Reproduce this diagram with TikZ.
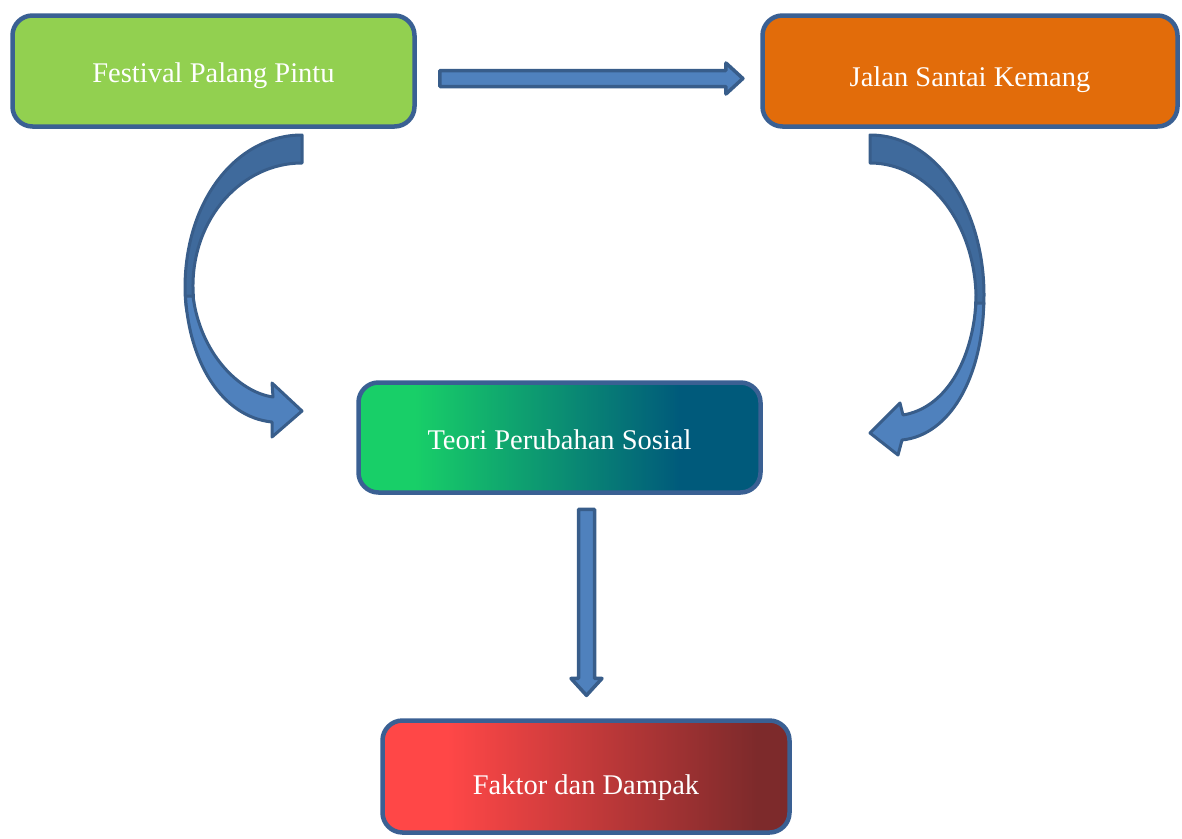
\documentclass[tikz,border=0pt]{standalone}
\usepackage{fontspec}
\setmainfont{Liberation Serif}
\usetikzlibrary{shapes.arrows}
\definecolor{boxline}{HTML}{3A6093}
\definecolor{festgreen}{HTML}{92D050}
\definecolor{jalanorange}{HTML}{E26C0A}
\definecolor{teoriA}{HTML}{18CF68}
\definecolor{teoriB}{HTML}{005A7B}
\definecolor{faktorA}{HTML}{FF4747}
\definecolor{faktorB}{HTML}{7D2A2B}
\definecolor{arrowfill}{HTML}{4F81BD}
\definecolor{arrowdark}{HTML}{3F6A9C}
\definecolor{arrowline}{HTML}{385D8A}
\pgfdeclarehorizontalshading{teorishade}{100bp}{color(0bp)=(teoriA); color(32bp)=(teoriA); color(65bp)=(teoriB); color(100bp)=(teoriB)}
\pgfdeclarehorizontalshading{faktorshade}{100bp}{color(0bp)=(faktorA); color(33bp)=(faktorA); color(71bp)=(faktorB); color(100bp)=(faktorB)}
\tikzset{
box/.style={ % Sets the properties for each box
rounded corners=20pt,
draw=boxline,
line width=4.5pt,
text=white,
font=\fontsize{28.5}{34}\selectfont,
text height=23pt, text depth=0pt,
minimum height=111pt},
blockarrow/.style={ % Straight block arrows
single arrow,
draw=arrowline,
fill=arrowfill,
line width=3.5pt,
line join=round,
inner sep=6.25pt,
single arrow head extend=7.5pt,
single arrow tip angle=85},
curveback/.style={fill=arrowdark, draw=arrowline, line width=3pt, line join=round},
curvefront/.style={fill=arrowfill, draw=arrowline, line width=3pt, line join=round}}
\begin{document}
\begin{tikzpicture}[x=1pt, y=-1pt]
\useasboundingbox (0,0) rectangle (1182,838);
\node[box, fill=festgreen, minimum width=402pt] (festival) at (213.5,71) {Festival Palang Pintu};
\node[box, fill=jalanorange, minimum width=415pt, text height=31pt] (jalan) at (970,71) {Jalan Santai Kemang};
\node[box, shade, shading=teorishade, minimum width=402pt, minimum height=110pt, text height=24pt] (teori) at (559.5,437.5) {Teori Perubahan Sosial};
\node[box, shade, shading=faktorshade, minimum width=407pt, minimum height=112pt, text height=36pt] (faktor) at (586,776.5) {Faktor dan Dampak};
% straight arrows
\node[blockarrow, minimum height=303pt] (festjalan) at (587,78.5) {};
\node[blockarrow, minimum height=186pt, rotate=-90] (teorifaktor) at (586.5,598) {};
% curved arrow from Festival Palang Pintu
\draw[curveback] (302,135) .. controls (237,135) and (185,200) .. (185,288)
  .. controls (185,298) and (186,306) .. (187,312) -- (194,312) -- (193,288)
  .. controls (192,218) and (242,163) .. (302,163) -- cycle;
\draw[curvefront] (185.5,296) .. controls (189,362) and (222,417) .. (272,422)
  -- (272,437) -- (302,411) -- (272,383) -- (273,397)
  .. controls (238,392) and (200,352) .. (193,296) -- cycle;
% curved arrow from Jalan Santai Kemang
\draw[curveback] (870,135) .. controls (937,135) and (984,210) .. (984,295)
  .. controls (984,305) and (983,313) .. (982.5,320) -- (975,320) -- (976,295)
  .. controls (974,222) and (928,163) .. (870,163) -- cycle;
\draw[curvefront] (983.8,303) .. controls (982,378) and (950,435) .. (902,440)
  -- (898,455) -- (870,433) -- (900,403) -- (903,415)
  .. controls (945,408) and (972,362) .. (976,303) -- cycle;
\end{tikzpicture}
\end{document}
